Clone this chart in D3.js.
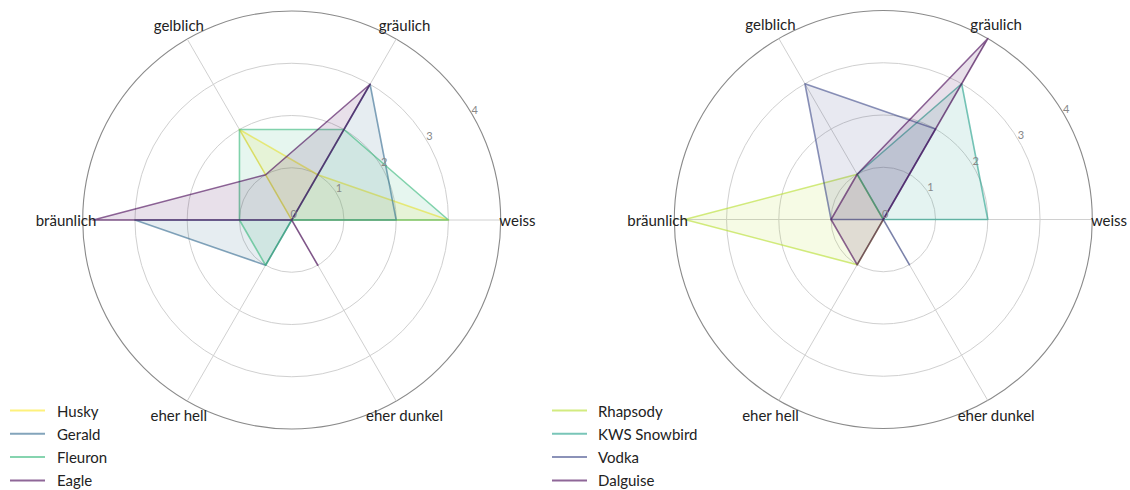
<!DOCTYPE html>
<html>
<head>
<meta charset="utf-8">
<script src="https://cdn.jsdelivr.net/npm/d3@7"></script>
<style>
  html, body { margin: 0; padding: 0; background: #fff; }
  svg { display: block; font-family: Lato, "Open Sans", sans-serif; }
</style>
</head>
<body>
<svg id="chart" width="1130" height="490"></svg>
<script>
const axesLabels = ["weiss", "gräulich", "gelblich", "bräunlich", "eher hell", "eher dunkel"];
const tickValues = [0, 1, 2, 3, 4];

const leftNames = ["Husky", "Gerald", "Fleuron", "Eagle"];
const leftColors = ["#fde725", "#31688e", "#35b779", "#440154"];
const husky   = [3, 1, 2, 0, 0, 0];
const gerald  = [2, 3, 0, 3, 1, 0];
const fleuron = [3, 2, 2, 1, 1, 0];
const eagle   = [0, 3, 1, 3.8, 0, 1];

const rightNames = ["Rhapsody", "KWS Snowbird", "Vodka", "Dalguise"];
const rightColors = ["#b5de2b", "#1f9e89", "#3e4989", "#440154"];
const rhapsody = [0, 0, 1, 3.8, 1, 0];
const kws      = [2, 3, 1, 0, 0, 0];
const vodka    = [0, 2, 3, 1, 0, 1];
const dalguise = [0, 4, 1, 1, 1, 0];

const svg = d3.select("#chart");
const R = 209;
const r = d3.scaleLinear().domain([0, 4]).range([0, R]);
const angle = i => Math.PI / 2 - i * Math.PI / 3; // clockwise from 12 o'clock

function radar(cx, cy, names, colors, series, legend) {
  const g = svg.append("g").attr("transform", `translate(${cx},${cy})`);
  g.selectAll("circle.ring").data(tickValues.filter(d => d > 0)).join("circle")
    .attr("r", d => r(d)).attr("fill", "none")
    .attr("stroke", d => d === 4 ? "#8a8a8a" : "#d0d0d0")
    .attr("stroke-width", d => d === 4 ? 1.1 : 1);
  g.selectAll("line.axis").data(axesLabels).join("line")
    .attr("x1", 0).attr("y1", 0)
    .attr("x2", (d, i) => Math.sin(angle(i)) * R)
    .attr("y2", (d, i) => -Math.cos(angle(i)) * R)
    .attr("stroke", "#d0d0d0").attr("stroke-width", 1);
  const line = d3.lineRadial().angle((d, i) => angle(i)).radius(d => r(d)).curve(d3.curveLinearClosed);
  series.forEach((vals, k) => {
    g.append("path").attr("d", line(vals))
      .attr("fill", colors[k]).attr("fill-opacity", 0.12)
      .attr("stroke", colors[k]).attr("stroke-opacity", 0.6)
      .attr("stroke-width", 1.6).attr("stroke-linejoin", "round");
  });
  const ta = Math.PI / 6;
  g.selectAll("text.tick").data(tickValues).join("text")
    .attr("x", d => Math.cos(ta) * r(d) + 2)
    .attr("y", d => -Math.sin(ta) * r(d) - 6.5)
    .attr("text-anchor", "middle").attr("dominant-baseline", "central")
    .attr("font-size", 11).attr("fill", "#888").text(d => d);
  const LR = R * 1.08;
  g.selectAll("text.axlab").data(axesLabels).join("text")
    .attr("x", (d, i) => Math.sin(angle(i)) * LR)
    .attr("y", (d, i) => -Math.cos(angle(i)) * LR)
    .attr("text-anchor", "middle").attr("dominant-baseline", "central")
    .attr("font-size", 15).attr("fill", "#222").text(d => d);
  const lg = svg.append("g");
  names.forEach((n, k) => {
    const y = legend.y + k * 23.3;
    lg.append("line").attr("x1", legend.x1).attr("x2", legend.x2).attr("y1", y).attr("y2", y)
      .attr("stroke", colors[k]).attr("stroke-opacity", 0.6).attr("stroke-width", 2);
    lg.append("text").attr("x", legend.tx).attr("y", y).attr("dominant-baseline", "central")
      .attr("font-size", 15).attr("fill", "#222").text(n);
  });
}

radar(291.7, 220, leftNames, leftColors, [husky, gerald, fleuron, eagle], {x1: 10, x2: 45, tx: 57, y: 410.5});
radar(883.3, 219.5, rightNames, rightColors, [rhapsody, kws, vodka, dalguise], {x1: 552, x2: 587, tx: 598, y: 410.5});
</script>
</body>
</html>
